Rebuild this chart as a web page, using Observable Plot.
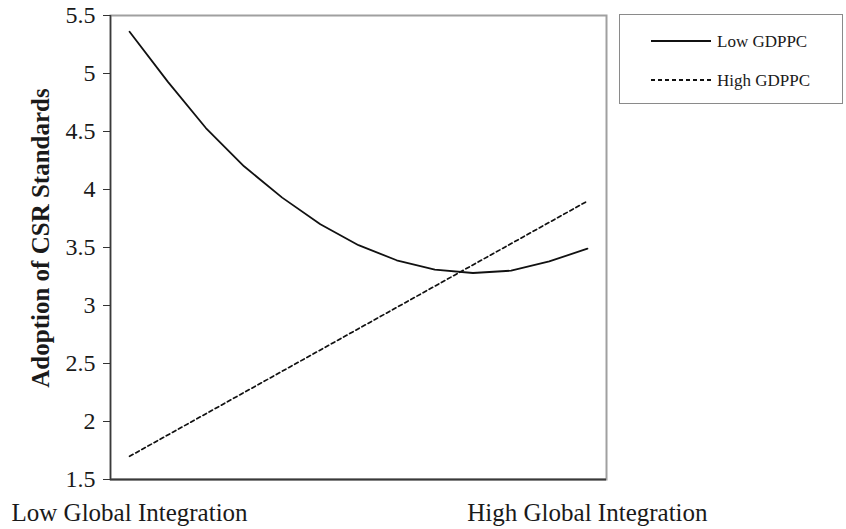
<!DOCTYPE html>
<html>
<head>
<meta charset="utf-8">
<script src="https://cdn.jsdelivr.net/npm/d3@7"></script>
<script src="https://cdn.jsdelivr.net/npm/@observablehq/plot@0.6"></script>
<style>
  body { margin: 0; background: #fff; }
  #wrap { position: relative; width: 846px; height: 529px; font-family: "Liberation Serif", "Times New Roman", serif; }
  #wrap svg text { font-family: "Liberation Serif", "Times New Roman", serif; }
  #legend { position: absolute; left: 619px; top: 14px; width: 224px; height: 90px; box-sizing: border-box; border: 1px solid #8a8a8a; background: #fff; }
  #legend svg { position: absolute; left: 0; top: 0; }
  .lg-text { position: absolute; left: 97px; font-size: 17px; color: #1a1a1a; line-height: 1; white-space: nowrap; }
</style>
</head>
<body>
<div id="wrap"></div>
<script>
// ---- data ----
const points = [1, 2, 3, 4, 5, 6, 7, 8, 9, 10, 11, 12, 13];
const lowGdppc = [5.36, 4.93, 4.53, 4.20, 3.93, 3.70, 3.52, 3.39, 3.31, 3.28, 3.30, 3.38, 3.49];
const highPoints = [1, 13];
const highGdppc = [1.70, 3.90];
const yTicks = [1.5, 2, 2.5, 3, 3.5, 4, 4.5, 5, 5.5];
const xTickPositions = [1, 13];
const xTickLabels = ["Low Global Integration", "High Global Integration"];
const seriesNames = ["Low GDPPC", "High GDPPC"];
const yTitle = "Adoption of CSR Standards";

const lowData = points.map((p, i) => ({x: p, y: lowGdppc[i]}));
const highData = highPoints.map((p, i) => ({x: p, y: highGdppc[i]}));

const chart = Plot.plot({
  width: 846,
  height: 529,
  marginLeft: 110,
  marginRight: 240,
  marginTop: 15,
  marginBottom: 50,
  style: { fontFamily: "'Liberation Serif', 'Times New Roman', serif", color: "#1a1a1a", background: "#fff" },
  x: { type: "linear", domain: [0.5, 13.5] },
  y: { type: "linear", domain: [1.5, 5.5] },
  marks: [
    Plot.frame({ stroke: "#a0a0a0", strokeWidth: 2 }),
    Plot.axisY({ ticks: yTicks, tickSize: 7, tickPadding: 8, fontSize: 24, tickFormat: d => String(d), label: null, stroke: "#333" }),
    Plot.axisX({ ticks: xTickPositions, tickSize: 0, tickPadding: 24, fontSize: 25, tickFormat: d => xTickLabels[xTickPositions.indexOf(d)], label: null }),
    Plot.ruleX([0.5], { stroke: "#3a3a3a", strokeWidth: 1.5 }),
    Plot.ruleY([1.5], { stroke: "#3a3a3a", strokeWidth: 2 }),
    Plot.line(lowData, { x: "x", y: "y", stroke: "#111", strokeWidth: 1.8 }),
    Plot.line(highData, { x: "x", y: "y", stroke: "#111", strokeWidth: 1.7, strokeDasharray: "4,3" })
  ]
});

const wrap = document.getElementById("wrap");
wrap.appendChild(chart);

// y-axis title
d3.select(chart).append("text")
  .attr("transform", "translate(40,238) rotate(-90)")
  .attr("text-anchor", "middle")
  .attr("dominant-baseline", "central")
  .attr("font-family", "'Liberation Serif', 'Times New Roman', serif")
  .attr("font-weight", "bold")
  .attr("font-size", 25)
  .attr("fill", "#1a1a1a")
  .text(yTitle);

// legend
const legend = document.createElement("div");
legend.id = "legend";
legend.innerHTML = `
<svg width="224" height="90">
  <line x1="31" x2="91" y1="26" y2="26" stroke="#111" stroke-width="2"/>
  <line x1="31" x2="91" y1="65" y2="65" stroke="#111" stroke-width="2" stroke-dasharray="4,3"/>
</svg>
<div class="lg-text" style="top:18px">${seriesNames[0]}</div>
<div class="lg-text" style="top:57px">${seriesNames[1]}</div>`;
wrap.appendChild(legend);
</script>
</body>
</html>
